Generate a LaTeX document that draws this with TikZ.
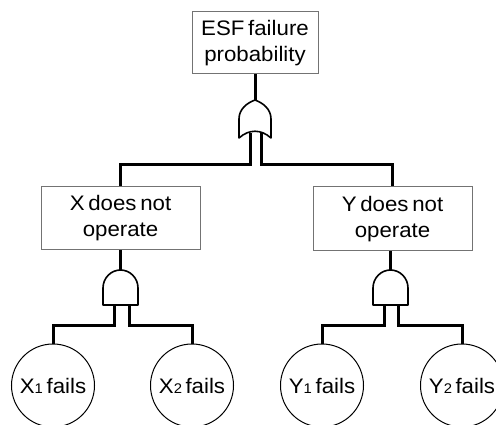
\documentclass[tikz,border=0pt]{standalone}
\usepackage{fontspec}
\setmainfont[FakeStretch=1.06,WordSpace=0.6]{Liberation Sans}
\begin{document}
\begin{tikzpicture}[x=1pt,y=-1pt,
  conn/.style={line width=3pt, black},
  evbox/.style={draw=black!55, line width=1pt, align=center, inner sep=0pt,
    font=\fontsize{21}{26}\selectfont},
  basic/.style={circle, draw=black, line width=1pt, minimum size=83pt, inner sep=0pt,
    font=\fontsize{21}{26}\selectfont},
  gate/.style={draw=black, line width=1.6pt, fill=white, line join=round}
]
\newcommand{\subdig}[1]{{\fontsize{14}{14}\selectfont #1}}
\useasboundingbox (0,0) rectangle (496,425);
\clip (0,0) rectangle (496,425);

% event boxes
\node[evbox, minimum width=126pt, minimum height=62pt] (top) at (255,43) {ESF failure\\probability};
\node[evbox, minimum width=159pt, minimum height=63pt] (X) at (120.5,218.5) {X does not\\operate};
\node[evbox, minimum width=159pt, minimum height=64pt] (Y) at (392.5,219) {Y does not\\operate};

% basic events
\node[basic] (X1) at (53,385.5) {X\subdig{1} fails};
\node[basic] (X2) at (192,385.5) {X\subdig{2}\,fails};
\node[basic] (Y1) at (322,385.5) {Y\subdig{1} fails};
\node[basic] (Y2) at (462,385.5) {Y\subdig{2}\,fails};

% gate ports
\coordinate (orOut) at (255,100);
\coordinate (orInL) at (250.5,133);
\coordinate (orInR) at (261,133);
\coordinate (andXOut) at (120.5,270);
\coordinate (andXInL) at (114,305);
\coordinate (andXInR) at (129,305);
\coordinate (andYOut) at (390.5,270);
\coordinate (andYInL) at (384,305);
\coordinate (andYInR) at (398,305);

% connectors
\draw[conn] (top.south) -- (orOut);
\draw[conn] (orInL) -- (250.5,165) -| (X.north);
\draw[conn] (orInR) -- (261,165) -| (Y.north);
\draw[conn] (X.south -| andXOut) -- (andXOut);
\draw[conn] (Y.south -| andYOut) -- (andYOut);
\draw[conn] (andXInL) -- (114,325) -| (X1.north);
\draw[conn] (andXInR) -- (129,325) -| (X2.north);
\draw[conn] (andYInL) -- (384,325) -| (Y1.north);
\draw[conn] (andYInR) -- (398,325) -| (Y2.north);

% OR gate
\draw[gate] (239,138) -- (239,119) .. controls (239,109) and (247,103) .. (255,100)
  .. controls (263,103) and (271,109) .. (271,119) -- (271,138)
  .. controls (261,129) and (249,129) .. (239,138) -- cycle;
% AND gates
\draw[gate] (103,305) -- (103,288) .. controls (103,278) and (111,270) .. (120.5,270)
  .. controls (130,270) and (138,278) .. (138,288) -- (138,305) -- cycle;
\draw[gate] (373,305) -- (373,288) .. controls (373,278) and (381,270) .. (390.5,270)
  .. controls (400,270) and (408,278) .. (408,288) -- (408,305) -- cycle;
\end{tikzpicture}
\end{document}
